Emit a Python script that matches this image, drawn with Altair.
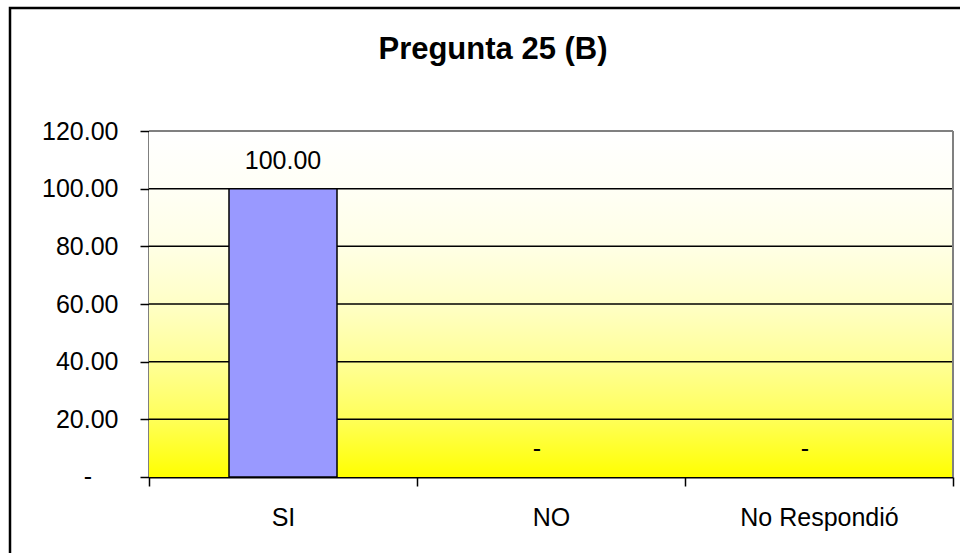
import altair as alt
import pandas as pd

# Survey answers and their percentages
categories = ["SI", "NO", "No Respondió"]
values = [100.0, 0.0, 0.0]
grid_values = [20, 40, 60, 80, 100]
y_ticks = [0, 20, 40, 60, 80, 100, 120]
title_text = "Pregunta 25 (B)"

FONT = "Liberation Sans"
FS = 25
W, H = 804, 346

bars_df = pd.DataFrame({"cat": categories, "v": values})
grid_df = pd.DataFrame({"g": grid_values})

x_scale = alt.Scale(domain=categories, paddingInner=0, paddingOuter=0)
y_scale = alt.Scale(domain=[0, 120], nice=False)

# Plot-area background: white at the top fading to yellow at the bottom
background = alt.Chart(pd.DataFrame({"a": [0]})).mark_rect(
    fill=alt.Gradient(
        gradient="linear",
        stops=[
            alt.GradientStop(color="#FFFFFF", offset=0),
            alt.GradientStop(color="#FFFFF5", offset=0.17),
            alt.GradientStop(color="#FFFFE6", offset=0.33),
            alt.GradientStop(color="#FFFFC6", offset=0.5),
            alt.GradientStop(color="#FFFF96", offset=0.67),
            alt.GradientStop(color="#FFFF5A", offset=0.83),
            alt.GradientStop(color="#FFFF00", offset=1),
        ],
        x1=0, x2=0, y1=0, y2=1,
    ),
    strokeWidth=0,
).encode(x=alt.value(0), x2=alt.value(W), y=alt.value(0), y2=alt.value(H))

# Horizontal gridlines
grid = alt.Chart(grid_df).mark_rule(color="#000000", strokeWidth=1.5).encode(
    y=alt.Y("g:Q", scale=y_scale),
    x=alt.value(0),
    x2=alt.value(W),
)

# Gray frame along the top and right edges of the plot area
frame_top = alt.Chart(pd.DataFrame({"a": [0]})).mark_rule(color="#808080", strokeWidth=2).encode(
    x=alt.value(0), x2=alt.value(W), y=alt.value(0)
)
frame_right = alt.Chart(pd.DataFrame({"a": [0]})).mark_rule(color="#808080", strokeWidth=2).encode(
    x=alt.value(W), y=alt.value(0), y2=alt.value(H)
)

bars = alt.Chart(bars_df).transform_filter("datum.v > 0").mark_bar(
    color="#9999FF", stroke="#000000", strokeWidth=1.5,
    width=alt.RelativeBandSize(band=0.403),
).encode(
    x=alt.X(
        "cat:N",
        scale=x_scale,
        sort=categories,
        title=None,
        axis=alt.Axis(
            labelAngle=0,
            labelFont=FONT,
            labelFontSize=FS,
            labelColor="#000000",
            labelBaseline="alphabetic",
            labelPadding=39,
            tickBand="extent",
            tickSize=9,
            tickColor="#000000",
            tickWidth=1.5,
            domainColor="#000000",
            domainWidth=2,
        ),
    ),
    y=alt.Y(
        "v:Q",
        scale=y_scale,
        title=None,
        axis=alt.Axis(
            values=y_ticks,
            grid=False,
            labelFont=FONT,
            labelFontSize=FS,
            labelColor="#000000",
            labelPadding=22,
            labelExpr="datum.value == 0 ? '' : format(datum.value, '.2f')",
            tickSize=9,
            tickColor="#000000",
            tickWidth=1.5,
            domainColor="#000000",
            domainWidth=2,
        ),
    ),
)

# Dash used on the value axis for zero (number format leaves room after it)
zero_tick_label = alt.Chart(pd.DataFrame({"z": [0]})).mark_text(
    font=FONT, fontSize=FS, color="#000000", baseline="middle", align="right", clip=False
).encode(x=alt.value(-57), y=alt.Y("z:Q", scale=y_scale), text=alt.value("-"))

value_labels = alt.Chart(bars_df).transform_filter("datum.v > 0").transform_calculate(
    lbl="format(datum.v, '.2f')"
).mark_text(
    font=FONT, fontSize=FS, color="#000000", baseline="alphabetic", align="center", dy=-20
).encode(
    x=alt.X("cat:N", scale=x_scale, sort=categories, bandPosition=0.5),
    y=alt.Y("v:Q", scale=y_scale),
    text="lbl:N",
)

zero_labels = alt.Chart(bars_df).transform_filter("datum.v == 0").mark_text(
    font=FONT, fontSize=FS, color="#000000", baseline="alphabetic", align="center",
    dy=-20, dx=-14,
).encode(
    x=alt.X("cat:N", scale=x_scale, sort=categories, bandPosition=0.5),
    y=alt.Y("v:Q", scale=y_scale),
    text=alt.value("-"),
)

title = alt.Chart(pd.DataFrame({"t": [title_text]})).mark_text(
    font=FONT, fontSize=31, fontWeight="bold", color="#000000",
    align="center", baseline="alphabetic",
).encode(x=alt.value(344), y=alt.value(-72), text="t:N")

# Outer chart border (left and top edges visible within the page)
outer = alt.Chart(pd.DataFrame({"a": [0]})).mark_rect(
    fill=None, stroke="#000000", strokeWidth=2.5, clip=False
).encode(x=alt.value(-139), x2=alt.value(840), y=alt.value(-123), y2=alt.value(450))

chart = alt.layer(
    background, grid, bars, value_labels, zero_labels, zero_tick_label,
    frame_top, frame_right, title, outer
).properties(
    width=W,
    height=H,
    padding={"left": 149, "top": 131, "right": 7, "bottom": 76},
    autosize=alt.AutoSizeParams(type="none"),
    background="#FFFFFF",
).configure_view(stroke=None)

chart.save("out.html", embed_options={"renderer": "svg", "actions": False})
